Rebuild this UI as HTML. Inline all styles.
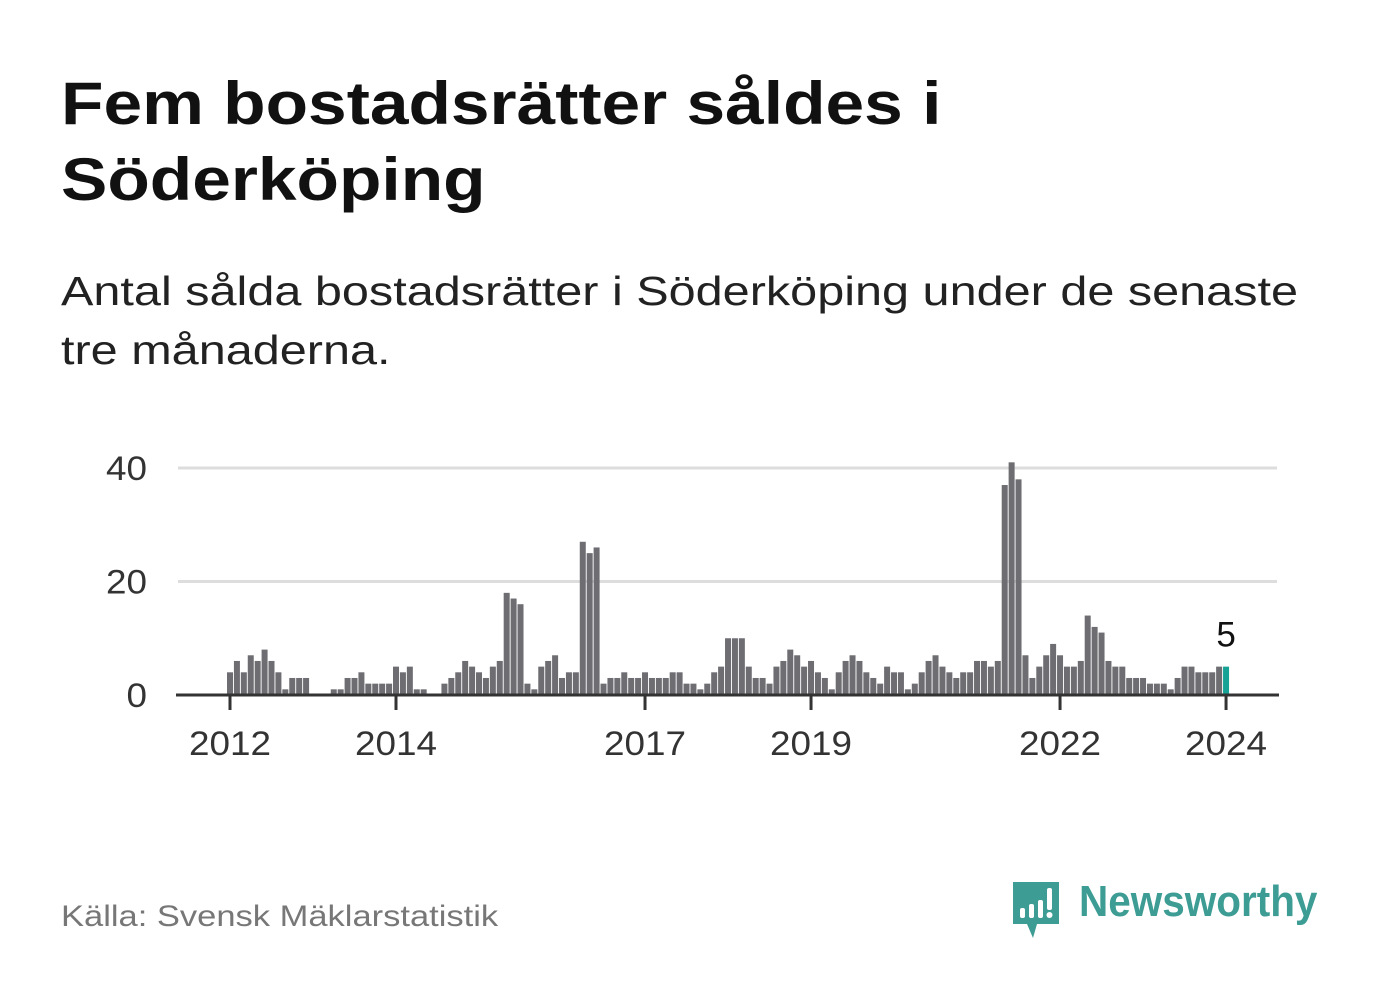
<!DOCTYPE html>
<html><head><meta charset="utf-8">
<style>
body{margin:0;background:#fff;width:1382px;height:999px;overflow:hidden;font-family:"Liberation Sans",sans-serif;}
.t{position:absolute;left:61px;margin:0;transform-origin:0 0;white-space:nowrap;}
</style></head>
<body>
<h1 class="t" style="top:66px;font-size:60px;line-height:76px;font-weight:bold;color:#111;transform:scaleX(1.158)">Fem bostadsrätter såldes i<br>Söderköping</h1>
<p class="t" style="top:262px;font-size:41px;line-height:59px;color:#222;transform:scaleX(1.185)">Antal sålda bostadsrätter i Söderköping under de senaste<br>tre månaderna.</p>
<svg id="chart" width="1382" height="999" style="position:absolute;left:0;top:0"></svg>
<p class="t" style="top:900px;font-size:30px;color:#777;transform:scaleX(1.15)">Källa: Svensk Mäklarstatistik</p>
<div style="position:absolute;left:1011px;top:880px;width:50px;height:58px">
<svg width="50" height="60"><path d="M2 2 H48 V44 H26 L22 58 L16 44 H2 Z" fill="#3d9d94"/><rect x="9" y="28" width="5" height="10" fill="#fff" rx="2"/><rect x="18" y="24" width="5" height="14" fill="#fff" rx="2"/><rect x="27" y="20" width="5" height="18" fill="#fff" rx="2"/><rect x="36" y="8" width="5" height="22" fill="#fff" rx="2"/><circle cx="38.5" cy="35" r="3" fill="#fff"/></svg></div>
<div class="t" style="left:1079px;top:877px;font-size:44px;font-weight:bold;color:#3d9d94;transform:scaleX(0.92)">Newsworthy</div>
<script>
const years=["2012","2014","2017","2019","2022","2024"];
const yearIdx=[0,24,60,84,120,144];
const yTicks=[0,20,40];
const values=[4,6,4,7,6,8,6,4,1,3,3,3,
0,0,0,1,1,3,3,4,2,2,2,2,
5,4,5,1,1,0,0,2,3,4,6,5,4,3,5,6,18,17,16,2,1,5,6,7,3,4,4,27,25,26,2,3,3,4,3,3,
4,3,3,3,4,4,2,2,1,2,4,5,10,10,10,5,3,3,2,5,6,8,7,5,
6,4,3,1,4,6,7,6,4,3,2,5,4,4,1,2,4,6,7,5,4,3,4,4,6,6,5,6,37,41,38,7,3,5,7,9,
7,5,5,6,14,12,11,6,5,5,3,3,3,2,2,2,1,3,5,5,4,4,4,5,5];
const NS="http://www.w3.org/2000/svg";
const svg=document.getElementById('chart');
const x=i=>230+i*6.917;
const y=v=>695-v*5.675;
function mk(t,a){const e=document.createElementNS(NS,t);for(const k in a)e.setAttribute(k,a[k]);svg.appendChild(e);return e;}
yTicks.forEach(v=>{
 if(v>0){const g=mk('line',{x1:178,x2:1277,y1:y(v),y2:y(v),stroke:'#ddd','stroke-width':3});
 
 }
 const s=String(v);
 const t=mk('text',{x:147,y:y(v)+12,'text-anchor':'end','font-size':34,fill:'#333','font-family':'Liberation Sans, sans-serif',textLength:s.length*20.5,lengthAdjust:'spacingAndGlyphs'});
 t.textContent=s;
 
 
});
values.forEach((v,i)=>{
 const r=mk('rect',{x:x(i)-3,y:y(v),width:6,height:v*5.675,fill:i==values.length-1?'#17a296':'#6e6d72'});
 
 
});
const ax=mk('line',{x1:176,x2:1279,y1:695,y2:695,stroke:'#333','stroke-width':3});


years.forEach((s,k)=>{
 const tk=mk('line',{x1:x(yearIdx[k]),x2:x(yearIdx[k]),y1:695,y2:710,stroke:'#333','stroke-width':3});
 
 
 const t=mk('text',{x:x(yearIdx[k]),y:755,'text-anchor':'middle','font-size':34,fill:'#333','font-family':'Liberation Sans, sans-serif',textLength:82,lengthAdjust:'spacingAndGlyphs'});
 t.textContent=s;
 
 
});
const last=values.length-1;
const lb=mk('text',{x:x(last),y:y(values[last])-20,'text-anchor':'middle','font-size':35,fill:'#111','font-family':'Liberation Sans, sans-serif'});
lb.textContent=values[last];


</script>
</body></html>
